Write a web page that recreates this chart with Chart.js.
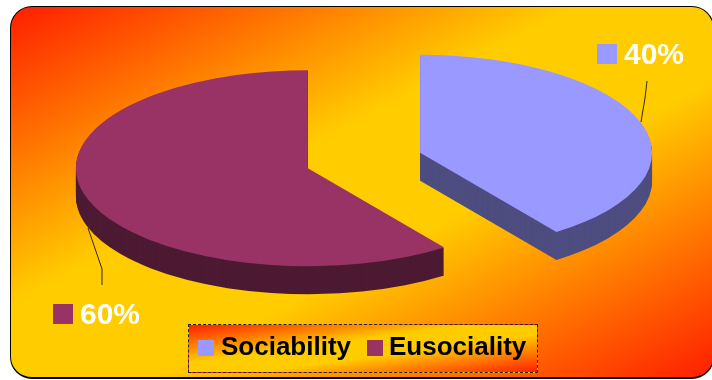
<!DOCTYPE html>
<html lang="en">
<head>
    <meta charset="UTF-8">
    <title>Sociability and Eusociality</title>
    <script src="https://cdn.jsdelivr.net/npm/chart.js"></script>
    <style>
        html, body { margin: 0; background: #fff; overflow: hidden; }
        #stage { position: relative; width: 712px; height: 380px; overflow: hidden; }
        #frame {
            position: absolute; left: 10px; top: 6px; width: 702px; height: 370px;
            border: 1.5px solid #000; border-bottom-width: 2px; border-radius: 22px;
            background: linear-gradient(to bottom right, #ff1e00 0%, #ffcc00 40%, #ffcc00 60%, #ff1e00 100%);
        }
        #pie { position: absolute; left: 0; top: 0; }
        #legend {
            position: absolute; left: 188px; top: 324px; width: 348px; height: 47px;
            border: 1px dashed #222; box-sizing: content-box;
            background: linear-gradient(to bottom right, #ff1e00 0%, #ffcc00 40%, #ffcc00 60%, #ff1e00 100%);
            font: bold 26px "Liberation Sans", Arial, sans-serif; color: #000;
        }
        #legend span { position: absolute; white-space: nowrap; }
        #legend i { position: absolute; width: 16px; height: 16px; top: 15px; }
    </style>
</head>
<body>
    <div id="stage">
        <div id="frame"></div>
        <canvas id="pie" width="712" height="380"></canvas>
        <div id="legend"></div>
    </div>

    <script>
        const categories = ["Sociability", "Eusociality"];
        const shares = [40, 60];
        const topColors = ["#9999ff", "#993366"];
        const sideColors = ["#4d4d80", "#4d1a33"];

        const tilt = 0.4224;     // squash of the pie into an ellipse
        const depth = 28;        // thickness of the disc, px
        const explode = 59;      // how far each slice is pulled out, px

        // squash around the pie's centre line
        function applyTilt(ctx, chart) {
            const cy = (chart.chartArea.top + chart.chartArea.bottom) / 2;
            ctx.translate(0, cy);
            ctx.scale(1, tilt);
            ctx.translate(0, -cy);
        }

        const discPlugin = {
            id: "disc",
            // pull the slices apart along their middle angle
            // (the arc's own offset option also grows the radius)
            afterDatasetsUpdate(chart) {
                chart.getDatasetMeta(0).data.forEach(arc => {
                    const mid = (arc.startAngle + arc.endAngle) / 2;
                    arc.x += Math.cos(mid) * explode;
                    arc.y += Math.sin(mid) * explode;
                });
            },
            // disc sides: the slices are stamped downwards in the darker colour,
            // the library then paints the top faces over them
            beforeDatasetsDraw(chart) {
                const ctx = chart.ctx;
                chart.getDatasetMeta(0).data.forEach((arc, i) => {
                    const saved = arc.options;
                    arc.options = Object.create(saved, {
                        backgroundColor: { value: sideColors[i] }
                    });
                    for (let d = depth; d > 0; d--) {
                        ctx.save();
                        ctx.translate(0, d);
                        applyTilt(ctx, chart);
                        arc.draw(ctx, chart.chartArea);
                        ctx.restore();
                    }
                    arc.options = saved;
                });
                ctx.save();
                applyTilt(ctx, chart);
            },
            afterDatasetsDraw(chart) {
                chart.ctx.restore();
            }
        };

        // percentage labels with their colour key and leader line
        const calloutPlugin = {
            id: "callouts",
            afterDatasetsDraw(chart, args, opts) {
                const ctx = chart.ctx;
                opts.items.forEach((item, i) => {
                    ctx.save();
                    ctx.strokeStyle = "#332a00";
                    ctx.lineWidth = 1;
                    ctx.beginPath();
                    item.leader.forEach((p, k) => k ? ctx.lineTo(p[0], p[1]) : ctx.moveTo(p[0], p[1]));
                    ctx.stroke();

                    ctx.fillStyle = topColors[i];
                    ctx.fillRect(item.key[0], item.key[1], 20, 20);

                    ctx.fillStyle = "#fff";
                    ctx.font = 'bold 30px "Liberation Sans", Arial, sans-serif';
                    ctx.textBaseline = "alphabetic";
                    ctx.fillText(shares[i] + "%", item.text[0], item.text[1]);
                    ctx.restore();
                });
            }
        };

        // legend box built from the chart's own legend items
        const htmlLegendPlugin = {
            id: "htmlLegend",
            afterUpdate(chart) {
                const box = document.getElementById("legend");
                const items = chart.options.plugins.legend.labels.generateLabels(chart);
                const keyX = [9, 178];
                const textX = [32, 200];
                box.innerHTML = "";
                items.forEach((item, i) => {
                    const key = document.createElement("i");
                    key.style.left = keyX[i] + "px";
                    key.style.background = item.fillStyle;
                    const label = document.createElement("span");
                    label.style.left = textX[i] + "px";
                    label.style.top = "6px";
                    label.textContent = item.text;
                    box.append(key, label);
                });
            }
        };

        new Chart(document.getElementById("pie"), {
            type: "pie",
            data: {
                labels: categories,
                datasets: [{
                    data: shares,
                    backgroundColor: topColors,
                    borderWidth: 0,
                    clip: false
                }]
            },
            options: {
                responsive: false,
                animation: false,
                radius: 232,
                layout: { padding: { left: 16, bottom: 59 } },
                plugins: {
                    legend: { display: false },
                    tooltip: { enabled: false },
                    callouts: {
                        items: [
                            { key: [597, 44], text: [624, 64], leader: [[641, 122], [645, 98], [647, 81]] },
                            { key: [53, 304], text: [80, 324], leader: [[88, 228], [102, 269], [102, 285]] }
                        ]
                    }
                }
            },
            plugins: [discPlugin, calloutPlugin, htmlLegendPlugin]
        });
    </script>
</body>
</html>
